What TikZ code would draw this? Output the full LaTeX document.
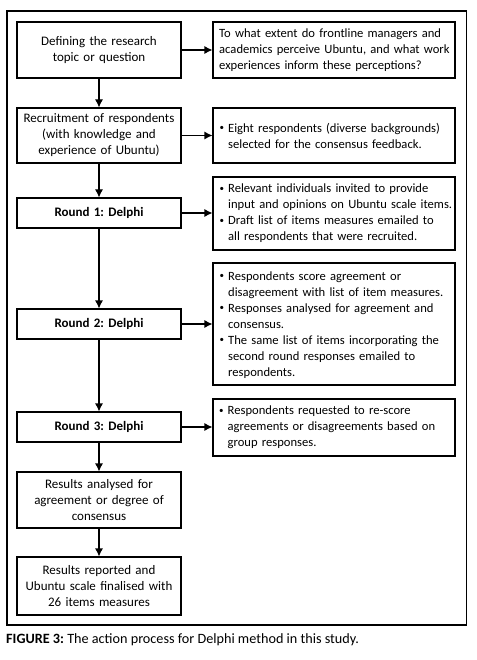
\documentclass[tikz,border=0pt]{standalone}
\usepackage{fontspec}
\setmainfont{Carlito}
\usetikzlibrary{arrows.meta}
\frenchspacing
\newcommand{\bul}{\makebox[8.5pt][l]{\raisebox{0.12em}{\fontsize{9}{9}\selectfont\textbullet}}}
\newcommand{\ind}{\hspace*{8.5pt}}
\begin{document}
\begin{tikzpicture}[x=1pt,y=-1pt,
  every node/.style={font=\fontsize{13}{16}\selectfont},
  lbox/.style={draw,line width=1.1pt,minimum width=164pt,text width=160pt,align=center,inner sep=0pt},
  rbox/.style={draw,line width=1.1pt,minimum width=242pt,inner sep=0pt},
  rtxt/.style={anchor=west,text width=240pt,align=left,inner sep=0pt,font=\fontsize{12.6}{16}\selectfont},
  arr/.style={line width=1.1pt,-{Latex[length=8pt,width=8pt]}}]
\useasboundingbox (0,0) rectangle (476,660);
\draw[line width=1.1pt] (7,11) rectangle (466.5,625);
% left boxes
\node[lbox,minimum height=56pt] (b1) at (99,50) {Defining the research\\topic or question};
\node[lbox,minimum height=55pt] (b2) at (99,135.5) {Recruitment of respondents\\(with knowledge and\\experience of Ubuntu)};
\node[lbox,minimum height=30pt,font=\fontsize{13}{16}\selectfont\bfseries] (b3) at (99,213) {Round 1: Delphi};
\node[lbox,minimum height=30pt,font=\fontsize{13}{16}\selectfont\bfseries] (b4) at (99,324) {Round 2: Delphi};
\node[lbox,minimum height=30pt,font=\fontsize{13}{16}\selectfont\bfseries] (b5) at (99,427) {Round 3: Delphi};
\node[lbox,minimum height=56pt] (b6) at (99,500) {Results analysed for\\agreement or degree of\\consensus};
\node[lbox,minimum height=58pt] (b7) at (99,586) {Results reported and\\Ubuntu scale finalised with\\26 items measures};
% right boxes
\node[rbox,minimum height=56pt] (r1) at (334,50) {};
\node[rtxt] (t1) at (219,50) {To what extent do frontline managers and\\academics perceive Ubuntu, and what work\\experiences inform these perceptions?};
\node[rbox,minimum height=55pt] (r2) at (334,135.5) {};
\node[rtxt] (t2) at (219.5,135.5) {\bul Eight respondents (diverse backgrounds)\\\ind selected for the consensus feedback.};
\node[rbox,minimum height=73pt] (r3) at (334,213.5) {};
\node[rtxt] (t3) at (219.5,213.5) {\bul Relevant individuals invited to provide\\\ind input and opinions on Ubuntu scale items.\\\bul Draft list of items measures emailed to\\\ind all respondents that were recruited.};
\node[rbox,minimum height=122pt] (r4) at (334,324) {};
\node[rtxt] (t4) at (219.5,325) {\bul Respondents score agreement or\\\ind disagreement with list of item measures.\\\bul Responses analysed for agreement and\\\ind consensus.\\\bul The same list of items incorporating the\\\ind second round responses emailed to\\\ind respondents.};
\node[rbox,minimum height=57pt] (r5) at (334,427.5) {};
\node[rtxt] (t5) at (219,427.5) {\bul Respondents requested to re-score\\\ind agreements or disagreements based on\\\ind group responses.};
% arrows
\draw[arr] (b1) -- (b2);
\draw[arr] (b2) -- (b3);
\draw[arr] (b3) -- (b4);
\draw[arr] (b4) -- (b5);
\draw[arr] (b5) -- (b6);
\draw[arr] (b6) -- (b7);
\draw[arr] (b1.east) -- (b1.east -| r1.west);
\draw[arr] (b2.east) -- (b2.east -| r2.west);
\draw[arr] (b3.east) -- (b3.east -| r3.west);
\draw[arr] (b4.east) -- (b4.east -| r4.west);
\draw[arr] (b5.east) -- (b5.east -| r5.west);
% caption
\node[anchor=west,inner sep=0pt,font=\fontsize{14.2}{16}\selectfont] (cap) at (6,640) {\textbf{FIGURE 3:} The action process for Delphi method in this study.};
\end{tikzpicture}
\end{document}
